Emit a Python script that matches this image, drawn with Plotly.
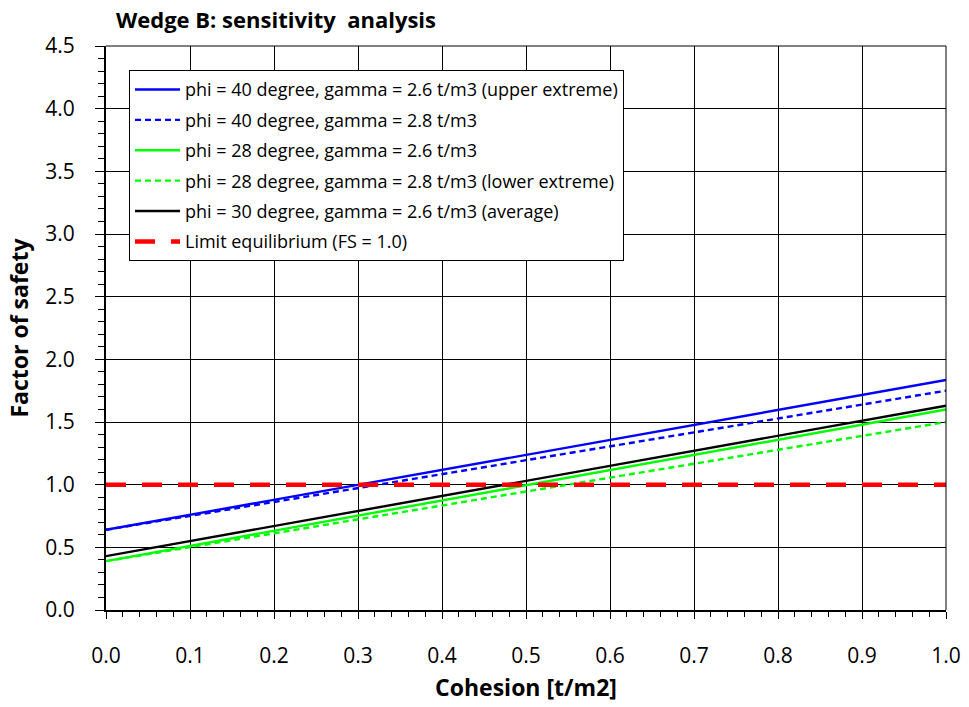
import plotly.graph_objects as go

# Cohesion range [t/m2] and the resulting factor of safety for each case
cohesion = [0.0, 1.0]
fs_phi40_g26 = [0.64, 1.835]
fs_phi40_g28 = [0.64, 1.75]
fs_phi28_g26 = [0.39, 1.60]
fs_phi28_g28 = [0.39, 1.50]
fs_phi30_g26 = [0.43, 1.63]
fs_limit = [1.0, 1.0]

series_names = [
    "phi = 40 degree, gamma = 2.6 t/m3 (upper extreme)",
    "phi = 40 degree, gamma = 2.8 t/m3",
    "phi = 28 degree, gamma = 2.6 t/m3",
    "phi = 28 degree, gamma = 2.8 t/m3 (lower extreme)",
    "phi = 30 degree, gamma = 2.6 t/m3 (average)",
    "Limit equilibrium (FS = 1.0)",
]
series_values = [fs_phi40_g26, fs_phi40_g28, fs_phi28_g26, fs_phi28_g28, fs_phi30_g26, fs_limit]
series_styles = [
    dict(color="#0000FF", width=2.4, dash="solid"),
    dict(color="#0000FF", width=2.4, dash="6px,4px"),
    dict(color="#00FF00", width=2.4, dash="solid"),
    dict(color="#00FF00", width=2.4, dash="6px,4px"),
    dict(color="#000000", width=2.4, dash="solid"),
    dict(color="#FF0000", width=4.5, dash="20px,16px"),
]

x_ticks = [round(i * 0.1, 1) for i in range(11)]
y_ticks = [round(i * 0.5, 1) for i in range(10)]

FONT = "'Open Sans', 'Noto Sans', sans-serif"

fig = go.Figure()
for i, (name, vals, style) in enumerate(zip(series_names, series_values, series_styles)):
    fig.add_trace(go.Scatter(
        x=cohesion, y=vals, mode="lines", name=name,
        line=style, legendgroup=f"g{i}",
    ))

fig.update_layout(
    width=969, height=707,
    margin=dict(l=106, r=23, t=46, b=97),
    paper_bgcolor="white", plot_bgcolor="white",
    font=dict(family=FONT, color="black"),
    title=dict(
        text="<b>Wedge B: sensitivity\u00a0 analysis</b>",
        x=116 / 969, xanchor="left", y=1 - 20 / 707, yanchor="middle",
        font=dict(size=22, family=FONT),
    ),
    legend=dict(
        x=0.0274, y=0.957, xanchor="left", yanchor="top",
        bgcolor="white", bordercolor="black", borderwidth=1,
        font=dict(size=18, family=FONT),
        traceorder="grouped", tracegroupgap=4,
        itemwidth=45,
    ),
    showlegend=True,
)

fig.update_xaxes(
    range=[0, 1.0], tickvals=x_ticks, ticktext=[f"{v:.1f}" for v in x_ticks],
    showgrid=True, gridcolor="black", gridwidth=1,
    showline=True, linecolor="black", linewidth=2,
    ticks="outside", ticklen=7, tickcolor="black", tickwidth=1,
    ticklabelstandoff=19,
    minor=dict(dtick=0.02, ticks="outside", ticklen=5, tickcolor="black", showgrid=False),
    tickfont=dict(size=21, family=FONT),
    title=dict(text="<b>Cohesion [t/m2]</b>", font=dict(size=23, family=FONT), standoff=12),
    zeroline=False, automargin=False,
)
fig.update_yaxes(
    range=[0, 4.5], tickvals=y_ticks, ticktext=[f"{v:.1f}" for v in y_ticks],
    showgrid=True, gridcolor="black", gridwidth=1,
    showline=True, linecolor="black", linewidth=2,
    ticks="outside", ticklen=9, tickcolor="black", tickwidth=1,
    ticklabelstandoff=16,
    minor=dict(dtick=0.1, ticks="outside", ticklen=6, tickcolor="black", showgrid=False),
    tickfont=dict(size=21, family=FONT),
    title=dict(text="<b>Factor of safety</b>", font=dict(size=23, family=FONT), standoff=10),
    zeroline=False, automargin=False,
)

# thin frame along the top and right of the plot area
fig.add_shape(type="line", xref="paper", yref="paper", x0=0, x1=1, y0=1, y1=1,
              line=dict(color="black", width=1))
fig.add_shape(type="line", xref="paper", yref="paper", x0=1, x1=1, y0=0, y1=1,
              line=dict(color="black", width=1))

fig.write_html("out.html")
